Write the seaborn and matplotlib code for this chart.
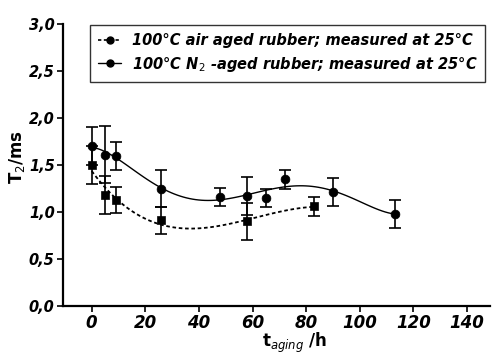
import numpy as np
import pandas as pd
import matplotlib
matplotlib.use("Agg")
import matplotlib.pyplot as plt
import seaborn as sns
from matplotlib.lines import Line2D

# ---- data ----
air_t = [0, 5, 9, 26, 58, 83]
air_T2 = [1.50, 1.18, 1.13, 0.91, 0.90, 1.06]
air_err = [0.20, 0.20, 0.14, 0.14, 0.20, 0.10]

n2_t = [0, 5, 9, 26, 48, 58, 65, 72, 90, 113]
n2_T2 = [1.70, 1.61, 1.60, 1.25, 1.16, 1.17, 1.15, 1.35, 1.21, 0.98]
n2_err = [0.20, 0.30, 0.15, 0.20, 0.10, 0.20, 0.10, 0.10, 0.15, 0.15]

labels = ["100°C air aged rubber; measured at 25°C",
          "100°C N$_2$ -aged rubber; measured at 25°C"]
xticks = [0, 20, 40, 60, 80, 100, 120, 140]
yticks = [0.0, 0.5, 1.0, 1.5, 2.0, 2.5, 3.0]

air = pd.DataFrame({"t": air_t, "T2": air_T2, "err": air_err})
n2 = pd.DataFrame({"t": n2_t, "T2": n2_T2, "err": n2_err})

sns.set_theme(style="ticks")
plt.rcParams["font.family"] = ["DejaVu Sans"]
for k in ("text.color", "axes.labelcolor", "xtick.color", "ytick.color", "axes.edgecolor"):
    plt.rcParams[k] = "black"

fig = plt.figure(figsize=(4.99, 3.54), dpi=100)
ax = fig.add_axes([63/499, 48/354, 427/499, 282/354])

# smooth fitted curves
sns.regplot(data=n2, x="t", y="T2", order=5, ci=None, scatter=False, truncate=True,
            ax=ax, line_kws=dict(color="black", lw=1.0, ls="-"))
sns.regplot(data=air, x="t", y="T2", order=3, ci=None, scatter=False, truncate=True,
            ax=ax, line_kws=dict(color="black", lw=1.3, ls=(0, (2.0, 1.5))))

# error bars
for df in (air, n2):
    ax.errorbar(df["t"], df["T2"], yerr=df["err"], fmt="none", ecolor="black",
                elinewidth=1.2, capsize=4.5, capthick=1.2, zorder=3)

sns.scatterplot(data=air, x="t", y="T2", marker="s", s=36, color="black",
                edgecolor="black", ax=ax, zorder=4)
sns.scatterplot(data=n2, x="t", y="T2", marker="o", s=40, color="black",
                edgecolor="black", ax=ax, zorder=4)

ax.set_xlim(-10.7, 148.6)
ax.set_ylim(0, 3.0)
ax.set_xticks(xticks)
ax.set_yticks(yticks)
ax.set_xticklabels([str(v) for v in xticks], fontsize=12, fontweight="bold", fontstyle="italic")
ax.set_yticklabels([f"{v:.1f}".replace(".", ",") for v in yticks], fontsize=10.5,
                   fontweight="bold", fontstyle="italic")
ax.tick_params(axis="both", direction="out", length=4, width=1.2, color="black", pad=2)
for side in ("top", "right"):
    ax.spines[side].set_visible(False)
for side in ("left", "bottom"):
    ax.spines[side].set_linewidth(1.6)
    ax.spines[side].set_color("black")

ax.set_xlabel("")
ax.set_ylabel("")
fig.text(295/499, 1 - 343/354, "t$_{aging}$ /h", ha="center", va="center", fontsize=12,
         fontweight="bold")
fig.text(17/499, 1 - 157/354, "T$_2$/ms", ha="center", va="center", rotation=90,
         fontsize=12, fontweight="bold")

handles = [Line2D([], [], color="black", ls=(0, (2.0, 1.5)), lw=1.2, marker="o", ms=5),
           Line2D([], [], color="black", ls="-", lw=1.0, marker="o", ms=5)]
leg = ax.legend(handles, labels, loc="upper left", bbox_to_anchor=(90/499, 1 - 25/354),
                bbox_transform=fig.transFigure, frameon=True, fancybox=False,
                prop=dict(size=10.5, style="italic", weight="semibold"), handlelength=1.6,
                handletextpad=0.7, borderpad=0.55, labelspacing=0.45, borderaxespad=0)
leg.get_frame().set_edgecolor("black")
leg.get_frame().set_linewidth(1.0)

fig.savefig("out.png", dpi=100, facecolor="white")
